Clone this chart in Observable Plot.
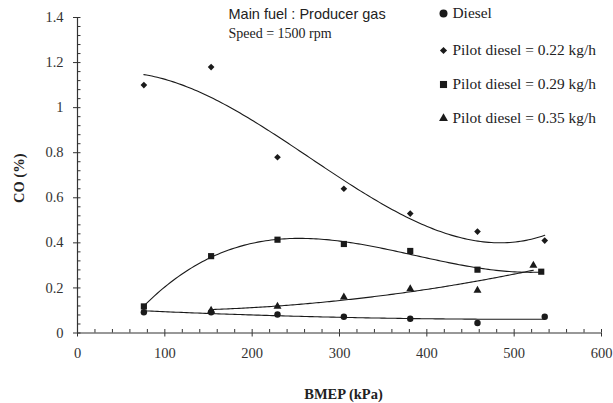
<!DOCTYPE html>
<html><head><meta charset="utf-8">
<script src="https://cdn.jsdelivr.net/npm/d3@7"></script>
<script src="https://cdn.jsdelivr.net/npm/@observablehq/plot@0.6"></script>
<style>body{margin:0;background:#fff}</style>
</head><body><div id="chart"></div>
<script>
// ---- data ----
const seriesNames = ["Diesel", "Pilot diesel = 0.22 kg/h", "Pilot diesel = 0.29 kg/h", "Pilot diesel = 0.35 kg/h"];
const seriesSymbols = ["circle", "diamond2", "square", "triangle"];
const bmepDiesel = [76, 153, 229, 305, 381, 458, 535];
const coDiesel   = [0.092, 0.092, 0.082, 0.072, 0.063, 0.044, 0.072];
const bmep022    = [76, 153, 229, 305, 381, 458, 535];
const co022      = [1.10, 1.18, 0.78, 0.64, 0.53, 0.45, 0.41];
const bmep029    = [76, 153, 229, 305, 381, 458, 531];
const co029      = [0.118, 0.341, 0.414, 0.395, 0.364, 0.281, 0.272];
const bmep035    = [153, 229, 305, 381, 458, 522];
const co035      = [0.10, 0.118, 0.159, 0.196, 0.189, 0.30];
const trendOrders = [2, 3, 3, 2];
const xTicks = [0, 100, 200, 300, 400, 500, 600];
const yTicks = [0, 0.2, 0.4, 0.6, 0.8, 1, 1.2, 1.4];
const xMinorTicks = d3.range(0, 31).map(i => i * 20);
const yMinorTicks = d3.range(0, 36).map(i => +(i * 0.04).toFixed(2));
const titleText = "Main fuel : Producer gas";
const subtitleText = "Speed = 1500 rpm";
const xLabel = "BMEP (kPa)";
const yLabel = "CO (%)";

// ---- build tables ----
const xs = [bmepDiesel, bmep022, bmep029, bmep035];
const ys = [coDiesel, co022, co029, co035];
const points = [];
seriesNames.forEach((s, i) => xs[i].forEach((x, j) => points.push({series: s, idx: i, x, y: ys[i][j]})));

// least-squares polynomial trend line (like a spreadsheet trendline)
function polyfit(px, py, order) {
  const n = order + 1;
  const A = Array.from({length: n}, () => new Array(n + 1).fill(0));
  px.forEach((x, k) => {
    const s = x / 100;
    for (let r = 0; r < n; r++) {
      for (let c = 0; c < n; c++) A[r][c] += Math.pow(s, r + c);
      A[r][n] += py[k] * Math.pow(s, r);
    }
  });
  for (let i = 0; i < n; i++) {
    let p = i;
    for (let r = i + 1; r < n; r++) if (Math.abs(A[r][i]) > Math.abs(A[p][i])) p = r;
    [A[i], A[p]] = [A[p], A[i]];
    for (let r = 0; r < n; r++) {
      if (r === i) continue;
      const f = A[r][i] / A[i][i];
      for (let c = i; c <= n; c++) A[r][c] -= f * A[i][c];
    }
  }
  const coef = A.map((row, i) => row[n] / row[i]);
  return x => coef.reduce((acc, c, i) => acc + c * Math.pow(x / 100, i), 0);
}
const trend = [];
seriesNames.forEach((s, i) => {
  const f = polyfit(xs[i], ys[i], trendOrders[i]);
  const lo = d3.min(xs[i]), hi = d3.max(xs[i]);
  for (let k = 0; k <= 150; k++) {
    const x = lo + (hi - lo) * k / 150;
    trend.push({series: s, x, y: f(x)});
  }
});

const ink = "#1a1a1a";
const serif = "Liberation Serif, Times New Roman, serif";
const fs = 14.5;

const legendRows = [-4, 33, 67, 101];
const legendR = [4, 3.2, 4, 3.3];
const legendMarks = [];
seriesNames.forEach((s, i) => {
  legendMarks.push(Plot.dot([s], {frameAnchor: "top-left", dx: 366, dy: legendRows[i], symbol: () => seriesSymbols[i], r: legendR[i], fill: ink, stroke: "none"}));
  legendMarks.push(Plot.text([s], {frameAnchor: "top-left", dx: 375, dy: legendRows[i], text: d => d, textAnchor: "start", lineAnchor: "middle", fontSize: 15.4, fontFamily: serif, fill: "#222"}));
});

const chart = Plot.plot({
  width: 613,
  height: 403,
  marginLeft: 77,
  marginRight: 12,
  marginTop: 17,
  marginBottom: 70.5,
  style: {fontFamily: serif, background: "#fff"},
  x: {domain: [0, 600], label: null},
  y: {domain: [0, 1.4], label: null},
  symbol: {domain: seriesNames, range: seriesSymbols},
  marks: [
    Plot.ruleX([0], {stroke: "#333", strokeWidth: 1.2}),
    Plot.ruleY([0], {stroke: "#333", strokeWidth: 1.2}),
    Plot.axisY({ticks: yTicks, tickSize: 4, tickPadding: 10, fontSize: fs, fontFamily: serif, fill: "#333", stroke: "#333", label: null, tickFormat: d => String(d)}),
    Plot.axisY({ticks: yMinorTicks, tickSize: 3.5, dx: 3.5, text: null, stroke: "#333", label: null}),
    Plot.axisX({ticks: xTicks, tickSize: 4, tickPadding: 11, fontSize: fs, fontFamily: serif, fill: "#333", stroke: "#333", label: null, tickFormat: d => String(d)}),
    Plot.axisX({ticks: xMinorTicks, tickSize: 3.5, dy: -3.5, text: null, stroke: "#333", label: null}),
    Plot.line(trend, {x: "x", y: "y", z: "series", stroke: ink, strokeWidth: 1.1, curve: "linear"}),
    Plot.dot(points, {x: "x", y: "y", symbol: "series", r: d => [4.7, 4.1, 5.5, 4][d.idx], fill: ink, stroke: "none"}),
    Plot.text([titleText], {frameAnchor: "top-left", dx: 151, dy: -3, text: d => d, textAnchor: "start", lineAnchor: "middle", fontSize: 14.5, fontFamily: "Liberation Sans, Arial, sans-serif", fill: "#222"}),
    Plot.text([subtitleText], {frameAnchor: "top-left", dx: 151, dy: 16, text: d => d, textAnchor: "start", lineAnchor: "middle", fontSize: 14, fontFamily: serif, fill: "#222"}),
    ...legendMarks,
    Plot.text([yLabel], {frameAnchor: "left", dx: -58, dy: 3, rotate: -90, text: d => d, textAnchor: "middle", lineAnchor: "middle", fontSize: fs, fontWeight: "bold", fontFamily: serif, fill: "#222"}),
    Plot.text([xLabel], {frameAnchor: "bottom", dx: 4, dy: 61, text: d => d, textAnchor: "middle", lineAnchor: "middle", fontSize: fs, fontWeight: "bold", fontFamily: serif, fill: "#222"})
  ]
});
document.getElementById("chart").append(chart);
</script>
</body></html>
